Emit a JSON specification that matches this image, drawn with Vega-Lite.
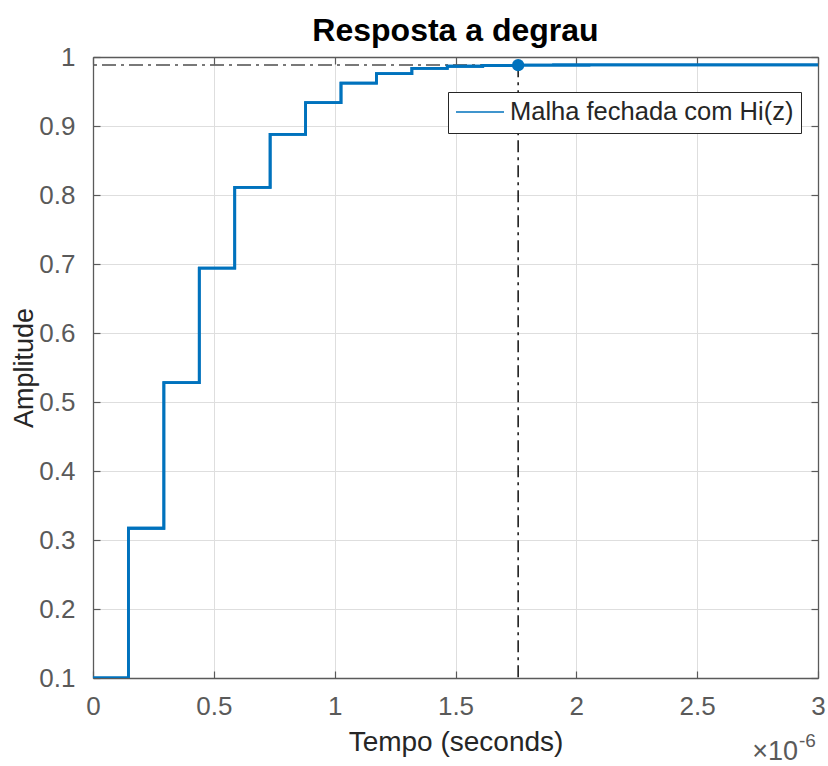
{
  "$schema": "https://vega.github.io/schema/vega-lite/v6.json",
  "width": 725,
  "height": 621,
  "autosize": "none",
  "padding": {"left": 93, "top": 57, "right": 10, "bottom": 88},
  "background": "white",
  "title": {
    "text": "Resposta a degrau",
    "font": "Liberation Sans",
    "fontSize": 32,
    "fontWeight": "bold",
    "color": "#000000",
    "anchor": "middle",
    "baseline": "alphabetic",
    "offset": 15,
    "dy": 44
  },
  "config": {
    "view": {"stroke": null},
    "axis": {
      "labelFont": "Liberation Sans",
      "titleFont": "Liberation Sans",
      "labelFontSize": 26,
      "titleFontSize": 27,
      "titleFontWeight": "normal",
      "labelColor": "#5a5a5a",
      "titleColor": "#262626",
      "domainColor": "#5a5a5a",
      "domainWidth": 1.3,
      "tickColor": "#5a5a5a",
      "tickSize": -7,
      "tickWidth": 1.2,
      "gridColor": "#dedede",
      "gridWidth": 1,
      "labelPadding": 22,
      "labelFlush": false
    },
    "legend": {
      "orient": "none",
      "legendX": 355,
      "legendY": 35,
      "fillColor": "white",
      "strokeColor": "#262626",
      "padding": 7,
      "labelFont": "Liberation Sans",
      "labelFontSize": 25.5,
      "labelColor": "#262626",
      "labelLimit": 0,
      "symbolType": "M-2,0H2",
      "symbolSize": 576,
      "symbolOffset": 12,
      "symbolStrokeWidth": 1.3,
      "labelOffset": 17
    }
  },
  "datasets": {
    "resposta": [
      {"t": 0, "amp": 0.1},
      {"t": 1.466e-7, "amp": 0.317},
      {"t": 2.932e-7, "amp": 0.528},
      {"t": 4.398e-7, "amp": 0.694},
      {"t": 5.864e-7, "amp": 0.811},
      {"t": 7.33e-7, "amp": 0.888},
      {"t": 8.796e-7, "amp": 0.934},
      {"t": 1.0262e-6, "amp": 0.962},
      {"t": 1.1728e-6, "amp": 0.976},
      {"t": 1.3194e-6, "amp": 0.9836},
      {"t": 1.466e-6, "amp": 0.9866},
      {"t": 1.6126e-6, "amp": 0.9877},
      {"t": 1.7592e-6, "amp": 0.9882},
      {"t": 1.9058e-6, "amp": 0.9884},
      {"t": 2.0524e-6, "amp": 0.9885},
      {"t": 2.199e-6, "amp": 0.9885},
      {"t": 2.3456e-6, "amp": 0.9885},
      {"t": 2.4922e-6, "amp": 0.9885},
      {"t": 2.6388e-6, "amp": 0.9885},
      {"t": 2.7854e-6, "amp": 0.9885},
      {"t": 2.932e-6, "amp": 0.9885},
      {"t": 3e-6, "amp": 0.9885}
    ],
    "acomodacao": [
      {"t": 1.7592e-6, "amp": 0.9882, "final": 0.9885, "base": 0.1}
    ]
  },
  "resolve": {"axis": {"x": "independent", "y": "independent"}},
  "layer": [
    {
      "data": {"name": "resposta"},
      "mark": {"type": "line", "interpolate": "step-after", "strokeWidth": 2.8, "clip": true},
      "encoding": {
        "x": {
          "field": "t",
          "type": "quantitative",
          "scale": {"domain": [0, 3e-6], "nice": false, "zero": false},
          "axis": {
            "orient": "bottom",
            "values": [0, 5e-7, 1e-6, 1.5e-6, 2e-6, 2.5e-6, 3e-6],
            "labelExpr": "format(datum.value * 1e6, '.1~f')",
            "title": "Tempo (seconds)",
            "titleFontSize": 28,
            "titlePadding": 9,
            "grid": true
          }
        },
        "y": {
          "field": "amp",
          "type": "quantitative",
          "scale": {"domain": [0.1, 1], "nice": false, "zero": false},
          "axis": {
            "orient": "left",
            "values": [0.1, 0.2, 0.3, 0.4, 0.5, 0.6, 0.7, 0.8, 0.9, 1],
            "format": ".1~f",
            "labelPadding": 25,
            "title": "Amplitude",
            "titlePadding": 0,
            "grid": true
          }
        },
        "color": {
          "datum": "Malha fechada com Hi(z)",
          "type": "nominal",
          "scale": {"range": ["#0072BD"]},
          "legend": {"title": null}
        }
      }
    },
    {
      "data": {"name": "acomodacao"},
      "mark": {"type": "rule", "color": "#4d4d4d", "strokeWidth": 1.5, "strokeDash": [14, 5, 3, 5]},
      "encoding": {
        "y": {"field": "final", "type": "quantitative", "axis": null}
      }
    },
    {
      "data": {"name": "resposta"},
      "mark": {"type": "line", "interpolate": "step-after", "strokeWidth": 2.8, "color": "#0072BD", "clip": true},
      "encoding": {
        "x": {"field": "t", "type": "quantitative", "axis": null},
        "y": {"field": "amp", "type": "quantitative", "axis": null}
      }
    },
    {
      "data": {"name": "acomodacao"},
      "mark": {"type": "rule", "color": "#000000", "strokeWidth": 1.4, "strokeDash": [12, 5, 3, 5]},
      "encoding": {
        "x": {
          "field": "t",
          "type": "quantitative",
          "axis": {
            "orient": "top",
            "values": [0, 5e-7, 1e-6, 1.5e-6, 2e-6, 2.5e-6, 3e-6],
            "labels": false,
            "title": null,
            "grid": false
          }
        },
        "y": {
          "field": "amp",
          "type": "quantitative",
          "axis": {
            "orient": "right",
            "values": [0.1, 0.2, 0.3, 0.4, 0.5, 0.6, 0.7, 0.8, 0.9, 1],
            "labels": false,
            "title": null,
            "grid": false
          }
        },
        "y2": {"field": "base"}
      }
    },
    {
      "data": {"name": "acomodacao"},
      "mark": {"type": "point", "filled": true, "opacity": 1, "size": 150, "color": "#0072BD"},
      "encoding": {
        "x": {"field": "t", "type": "quantitative", "axis": null},
        "y": {"field": "amp", "type": "quantitative", "axis": null}
      }
    },
    {
      "data": {"values": [{}]},
      "mark": {"type": "text", "text": "×10", "font": "Liberation Sans", "fontSize": 27, "color": "#5a5a5a", "align": "right", "baseline": "alphabetic", "dx": -20, "dy": 82},
      "encoding": {
        "x": {"datum": 3e-6, "type": "quantitative", "axis": null},
        "y": {"datum": 0.1, "type": "quantitative", "axis": null}
      }
    },
    {
      "data": {"values": [{}]},
      "mark": {"type": "text", "text": "-6", "font": "Liberation Sans", "fontSize": 19, "color": "#5a5a5a", "align": "left", "baseline": "alphabetic", "dx": -19, "dy": 69},
      "encoding": {
        "x": {"datum": 3e-6, "type": "quantitative", "axis": null},
        "y": {"datum": 0.1, "type": "quantitative", "axis": null}
      }
    }
  ]
}
